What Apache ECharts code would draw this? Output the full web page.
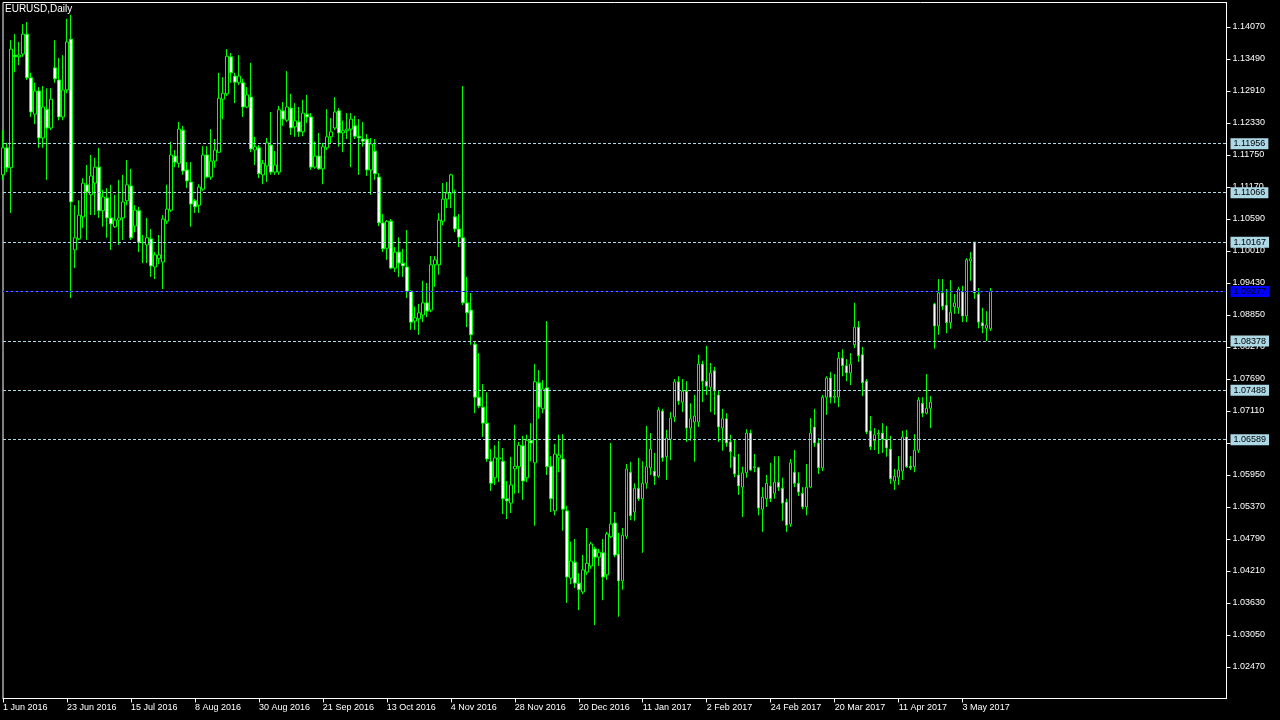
<!DOCTYPE html>
<html><head><meta charset="utf-8">
<script src="https://cdn.jsdelivr.net/npm/echarts@6/dist/echarts.min.js"></script>
<style>html,body{margin:0;padding:0;background:#000;}#c{width:1280px;height:720px;}</style>
</head><body><div id="c"></div>
<script>
// Daily EURUSD candles, 1 Jun 2016 .. 12 May 2017
const open = [
1.1139,1.1188,1.1152,1.1356,1.1353,1.1358,1.1394,1.1315,1.1249,1.1291,
1.1206,1.1258,1.1224,1.1333,1.1311,1.1244,1.1293,1.1385,1.1003,1.1023,
1.1063,1.1121,1.1103,1.1124,1.1153,1.1074,1.1097,1.1061,1.1045,1.1057,
1.1061,1.1092,1.1119,1.1046,1.1074,1.1017,1.1012,1.1023,1.0972,1.0987,
1.0981,1.1055,1.1075,1.1173,1.1160,1.1220,1.1148,1.1126,1.1092,1.1084,
1.1113,1.1175,1.1135,1.1164,1.1180,1.1276,1.1286,1.1353,1.1318,1.1306,
1.1306,1.1262,1.1280,1.1184,1.1188,1.1139,1.1155,1.1193,1.1144,1.1144,
1.1255,1.1238,1.1260,1.1226,1.1235,1.1217,1.1249,1.1244,1.1153,1.1173,
1.1150,1.1188,1.1208,1.1224,1.1255,1.1215,1.1219,1.1222,1.1228,1.1209,
1.1204,1.1204,1.1148,1.1182,1.1135,1.1052,1.1006,1.1055,1.0970,1.0999,
1.0979,1.0972,1.0928,1.0874,1.0878,1.0885,1.0907,1.0894,1.0976,1.0976,
1.1055,1.1095,1.1106,1.1063,1.1041,1.1025,1.0907,1.0894,1.0832,1.0736,
1.0718,1.0689,1.0620,1.0590,1.0624,1.0620,1.0552,1.0544,1.0606,1.0610,
1.0648,1.0590,1.0658,1.0617,1.0762,1.0715,1.0753,1.0611,1.0530,1.0626,
1.0624,1.0530,1.0408,1.0437,1.0399,1.0383,1.0419,1.0430,1.0461,1.0446,
1.0454,1.0414,1.0483,1.0508,1.0452,1.0403,1.0484,1.0600,1.0528,1.0571,
1.0552,1.0580,1.0608,1.0602,1.0593,1.0711,1.0628,1.0660,1.0700,1.0764,
1.0727,1.0747,1.0680,1.0691,1.0691,1.0796,1.0765,1.0754,1.0784,1.0740,
1.0680,1.0697,1.0655,1.0628,1.0595,1.0573,1.0599,1.0671,1.0608,1.0608,
1.0533,1.0552,1.0575,1.0562,1.0582,1.0571,1.0546,1.0506,1.0600,1.0580,
1.0562,1.0537,1.0573,1.0682,1.0653,1.0608,1.0736,1.0771,1.0736,1.0736,
1.0807,1.0793,1.0780,1.0831,1.0863,1.0813,1.0765,1.0675,1.0657,1.0669,
1.0671,1.0660,1.0642,1.0584,1.0591,1.0602,1.0664,1.0611,1.0610,1.0640,
1.0725,1.0707,1.0716,1.0905,1.0865,1.0925,1.0903,1.0871,1.0900,1.0898,
1.0927,1.0883,1.0983,1.1017,1.0923,1.0871,1.0861,1.0860
];
const high = [
1.1220,1.1197,1.1383,1.1394,1.1380,1.1412,1.1416,1.1324,1.1306,1.1298,
1.1300,1.1296,1.1296,1.1383,1.1351,1.1356,1.1422,1.1429,1.1084,1.1093,
1.1133,1.1157,1.1175,1.1170,1.1188,1.1112,1.1115,1.1121,1.1103,1.1130,
1.1139,1.1166,1.1150,1.1084,1.1081,1.1030,1.1061,1.1041,1.0999,1.1030,
1.1066,1.1121,1.1199,1.1184,1.1235,1.1228,1.1162,1.1162,1.1095,1.1122,
1.1191,1.1191,1.1222,1.1204,1.1324,1.1316,1.1367,1.1360,1.1324,1.1356,
1.1313,1.1298,1.1342,1.1208,1.1193,1.1166,1.1206,1.1253,1.1182,1.1264,
1.1271,1.1327,1.1286,1.1269,1.1262,1.1275,1.1284,1.1251,1.1199,1.1215,
1.1197,1.1258,1.1242,1.1280,1.1260,1.1237,1.1251,1.1251,1.1246,1.1240,
1.1235,1.1213,1.1206,1.1204,1.1142,1.1068,1.1057,1.1059,1.1008,1.1026,
1.1005,1.1039,1.0930,1.0900,1.0905,1.0947,1.0943,1.0992,1.0992,1.1070,
1.1124,1.1126,1.1141,1.1112,1.1068,1.1300,1.0954,1.0925,1.0838,1.0816,
1.0760,1.0745,1.0642,1.0649,1.0657,1.0644,1.0584,1.0628,1.0686,1.0655,
1.0666,1.0668,1.0689,1.0796,1.0785,1.0767,1.0874,1.0629,1.0651,1.0668,
1.0669,1.0539,1.0474,1.0479,1.0417,1.0450,1.0499,1.0474,1.0465,1.0461,
1.0479,1.0492,1.0653,1.0528,1.0490,1.0499,1.0615,1.0619,1.0580,1.0626,
1.0620,1.0684,1.0671,1.0635,1.0718,1.0715,1.0677,1.0709,1.0769,1.0774,
1.0769,1.0765,1.0725,1.0740,1.0813,1.0802,1.0829,1.0798,1.0791,1.0747,
1.0715,1.0707,1.0668,1.0660,1.0633,1.0610,1.0678,1.0677,1.0633,1.0610,
1.0573,1.0595,1.0617,1.0629,1.0629,1.0590,1.0552,1.0624,1.0640,1.0600,
1.0573,1.0615,1.0698,1.0715,1.0662,1.0740,1.0774,1.0782,1.0778,1.0818,
1.0823,1.0805,1.0816,1.0907,1.0874,1.0827,1.0769,1.0702,1.0680,1.0677,
1.0689,1.0684,1.0666,1.0606,1.0629,1.0675,1.0677,1.0629,1.0669,1.0736,
1.0736,1.0778,1.0738,1.0907,1.0950,1.0950,1.0932,1.0948,1.0923,1.0936,
1.0938,1.0988,1.0999,1.1017,1.0934,1.0898,1.0892,1.0934
];
const low = [
1.1130,1.1144,1.1070,1.1325,1.1338,1.1353,1.1311,1.1244,1.1231,1.1188,
1.1188,1.1130,1.1220,1.1306,1.1238,1.1238,1.1287,1.0916,1.0970,1.1021,
1.1043,1.1021,1.1066,1.1066,1.1061,1.1045,1.1025,1.1003,1.1043,1.1012,
1.1021,1.1084,1.1021,1.1035,1.0999,1.0979,1.0979,1.0954,1.0950,1.0977,
1.0932,1.1050,1.1072,1.1153,1.1152,1.1139,1.1115,1.1045,1.1070,1.1070,
1.1110,1.1133,1.1130,1.1152,1.1179,1.1240,1.1282,1.1306,1.1269,1.1302,
1.1244,1.1260,1.1180,1.1157,1.1133,1.1122,1.1126,1.1139,1.1139,1.1139,
1.1228,1.1235,1.1211,1.1208,1.1208,1.1209,1.1233,1.1148,1.1150,1.1148,
1.1122,1.1184,1.1195,1.1220,1.1190,1.1180,1.1204,1.1153,1.1204,1.1139,
1.1190,1.1137,1.1103,1.1130,1.1046,1.0999,1.0985,1.0968,1.0963,1.0954,
1.0954,1.0916,1.0858,1.0858,1.0849,1.0872,1.0881,1.0890,1.0936,1.0958,
1.1048,1.1079,1.1079,1.1035,1.1008,1.0903,1.0863,1.0831,1.0707,1.0716,
1.0664,1.0619,1.0566,1.0577,1.0582,1.0524,1.0515,1.0526,1.0561,1.0562,
1.0550,1.0582,1.0620,1.0503,1.0697,1.0707,1.0595,1.0528,1.0522,1.0600,
1.0494,1.0363,1.0397,1.0390,1.0350,1.0379,1.0414,1.0425,1.0323,1.0430,
1.0368,1.0405,1.0481,1.0446,1.0338,1.0387,1.0479,1.0513,1.0512,1.0548,
1.0454,1.0570,1.0595,1.0577,1.0590,1.0619,1.0586,1.0622,1.0691,1.0722,
1.0709,1.0655,1.0657,1.0619,1.0682,1.0727,1.0740,1.0709,1.0704,1.0655,
1.0639,1.0646,1.0608,1.0591,1.0559,1.0519,1.0590,1.0602,1.0600,1.0522,
1.0492,1.0537,1.0546,1.0552,1.0566,1.0512,1.0492,1.0501,1.0573,1.0557,
1.0533,1.0522,1.0571,1.0646,1.0597,1.0602,1.0704,1.0725,1.0725,1.0718,
1.0774,1.0765,1.0758,1.0825,1.0800,1.0738,1.0669,1.0640,1.0640,1.0633,
1.0635,1.0628,1.0579,1.0568,1.0577,1.0586,1.0608,1.0604,1.0600,1.0635,
1.0700,1.0705,1.0680,1.0824,1.0849,1.0894,1.0852,1.0860,1.0887,1.0887,
1.0872,1.0872,1.0947,1.0914,1.0861,1.0852,1.0838,1.0856
];
const close = [
1.1188,1.1152,1.1367,1.1353,1.1356,1.1394,1.1315,1.1253,1.1291,1.1206,
1.1262,1.1224,1.1276,1.1313,1.1244,1.1293,1.1380,1.1090,1.1025,1.1066,
1.1124,1.1108,1.1137,1.1153,1.1074,1.1099,1.1061,1.1050,1.1057,1.1061,
1.1090,1.1121,1.1025,1.1075,1.1017,1.1016,1.1025,1.0974,1.0994,1.0994,
1.1059,1.1077,1.1175,1.1162,1.1222,1.1146,1.1128,1.1086,1.1081,1.1117,
1.1175,1.1135,1.1164,1.1184,1.1278,1.1287,1.1354,1.1324,1.1307,1.1318,
1.1262,1.1284,1.1186,1.1190,1.1141,1.1160,1.1197,1.1144,1.1157,1.1257,
1.1240,1.1262,1.1224,1.1237,1.1217,1.1251,1.1244,1.1153,1.1173,1.1150,
1.1190,1.1208,1.1217,1.1253,1.1215,1.1219,1.1222,1.1240,1.1209,1.1206,
1.1200,1.1148,1.1195,1.1141,1.1052,1.1005,1.1055,1.0970,1.0999,1.0979,
1.0974,1.0928,1.0872,1.0880,1.0889,1.0907,1.0892,1.0976,1.0985,1.1057,
1.1095,1.1106,1.1139,1.1041,1.1026,1.0907,1.0889,1.0849,1.0736,1.0720,
1.0689,1.0624,1.0580,1.0626,1.0626,1.0552,1.0548,1.0577,1.0611,1.0649,
1.0584,1.0658,1.0653,1.0764,1.0718,1.0751,1.0610,1.0552,1.0633,1.0631,
1.0533,1.0410,1.0439,1.0399,1.0387,1.0423,1.0435,1.0470,1.0446,1.0455,
1.0410,1.0488,1.0506,1.0450,1.0403,1.0486,1.0606,1.0521,1.0571,1.0552,
1.0580,1.0610,1.0642,1.0593,1.0713,1.0626,1.0662,1.0698,1.0764,1.0729,
1.0747,1.0680,1.0697,1.0702,1.0796,1.0765,1.0756,1.0780,1.0749,1.0682,
1.0697,1.0653,1.0637,1.0597,1.0575,1.0599,1.0671,1.0604,1.0610,1.0535,
1.0555,1.0580,1.0552,1.0582,1.0573,1.0544,1.0504,1.0617,1.0580,1.0564,
1.0537,1.0573,1.0671,1.0653,1.0608,1.0736,1.0771,1.0736,1.0738,1.0807,
1.0793,1.0780,1.0796,1.0863,1.0811,1.0762,1.0673,1.0646,1.0668,1.0671,
1.0660,1.0644,1.0588,1.0593,1.0604,1.0664,1.0610,1.0608,1.0640,1.0731,
1.0707,1.0716,1.0727,1.0865,1.0925,1.0901,1.0871,1.0890,1.0907,1.0932,
1.0883,1.0985,1.0987,1.0925,1.0872,1.0865,1.0867,1.09277
];
const priceTicks = [1.14070,1.13490,1.12910,1.12330,1.11750,1.11170,1.10590,1.10010,1.09430,1.08850,
  1.08270,1.07690,1.07110,1.06530,1.05950,1.05370,1.04790,1.04210,1.03630,1.03050,1.02470];
const levelLines = [1.11956, 1.11066, 1.10167, 1.08378, 1.07488, 1.06589];
const bidPrice = 1.09277;
const firstDay = [2016, 5, 1];      // 1 Jun 2016
const slotCount = 307;              // visible bar slots incl. empty space on the right
const labelStep = 16;
const yMin = 1.01899, yMax = 1.14514;

const months = ['Jan','Feb','Mar','Apr','May','Jun','Jul','Aug','Sep','Oct','Nov','Dec'];
const categories = [];
let d = new Date(Date.UTC(firstDay[0], firstDay[1], firstDay[2]));
while (categories.length < slotCount) {
  const wd = d.getUTCDay();
  if (wd !== 0 && wd !== 6) categories.push(d.getUTCDate() + ' ' + months[d.getUTCMonth()] + ' ' + d.getUTCFullYear());
  d = new Date(d.getTime() + 86400000);
}
const candles = open.map((o, i) => [o, close[i], low[i], high[i]]);
const showIdx = (i) => i % labelStep === 0 && i < open.length;
const FONT = 'Liberation Sans';

const lineLabel = (v, bg) => ({
  show: true, position: 'end', distance: 4, formatter: v.toFixed(5),
  color: '#000', backgroundColor: bg, padding: [1, 3, 0, 3],
  fontSize: 9, fontFamily: FONT, lineHeight: 10
});
const mlData = levelLines.map(v => ({
  yAxis: v, lineStyle: { color: '#add8e6', type: [3, 2], width: 1 }, label: lineLabel(v, '#add8e6')
}));
mlData.push({ yAxis: bidPrice, lineStyle: { color: '#778899', type: 'solid', width: 1 }, label: { show: false } });
mlData.push({ yAxis: bidPrice, lineStyle: { color: '#0000ff', type: [3, 2], width: 1 }, label: lineLabel(bidPrice, '#0000ff') });

const chart = echarts.init(document.getElementById('c'), null, { renderer: 'canvas' });
chart.setOption({
  backgroundColor: '#000',
  animation: false,
  title: {
    text: 'EURUSD,Daily', left: 5, top: 4, padding: 0,
    textStyle: { color: '#fff', fontSize: 10, fontWeight: 'normal', fontFamily: FONT }
  },
  grid: { left: 2.5, right: 53.5, top: 2.5, bottom: 21.5, show: true, borderColor: '#fff', borderWidth: 1 },
  xAxis: {
    type: 'category', data: categories, boundaryGap: false,
    axisLine: { show: true, lineStyle: { color: '#fff', width: 1 } },
    axisTick: { show: true, length: 4, interval: showIdx, lineStyle: { color: '#fff' } },
    axisLabel: { interval: showIdx, color: '#fff', fontSize: 9, fontFamily: FONT, align: 'left', margin: 5 },
    splitLine: { show: false }
  },
  yAxis: {
    type: 'value', position: 'right', min: yMin, max: yMax,
    axisLine: { show: true, lineStyle: { color: '#fff', width: 1 } },
    axisTick: { show: true, length: 4, customValues: priceTicks, lineStyle: { color: '#fff' } },
    axisLabel: { customValues: priceTicks, color: '#fff', fontSize: 9, fontFamily: FONT, margin: 6,
      formatter: v => v.toFixed(5) },
    splitLine: { show: false }
  },
  series: [{
    type: 'candlestick', data: candles, barWidth: 3, clip: true,
    itemStyle: { color: '#000', color0: '#fff', borderColor: '#00ff00', borderColor0: '#00ff00', borderWidth: 1 },
    emphasis: { disabled: true },
    markLine: { silent: true, symbol: ['none', 'none'], animation: false, precision: 5, data: mlData }
  }]
});
</script>
</body></html>
